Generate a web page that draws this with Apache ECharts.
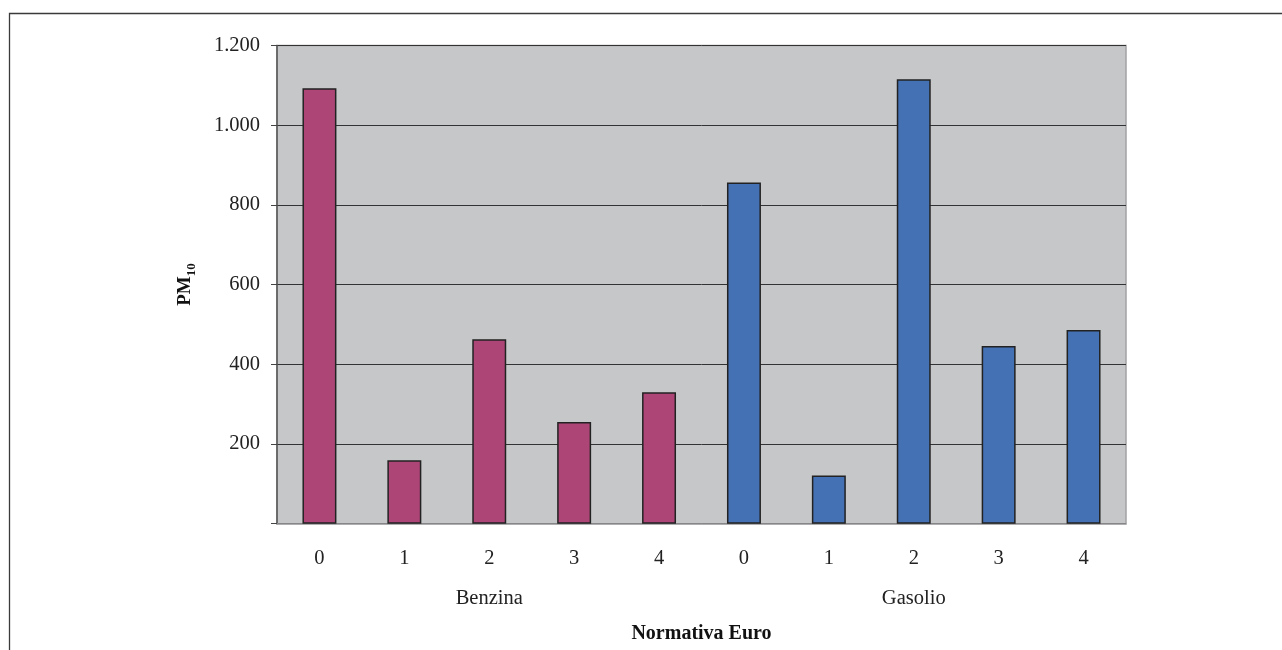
<!DOCTYPE html>
<html>
<head>
<meta charset="utf-8">
<script src="https://cdn.jsdelivr.net/npm/echarts@6/dist/echarts.min.js"></script>
<style>
html,body{margin:0;padding:0;background:#fff;}
#chart{width:1282px;height:650px;}
</style>
</head>
<body>
<div id="chart"></div>
<script>
// ---- data ----
const euroClasses = ['0', '1', '2', '3', '4'];
const fuelGroups = ['Benzina', 'Gasolio'];
const benzinaValues = [1093, 159, 463, 255, 330];
const gasolioValues = [856, 121, 1115, 446, 486];
const yTicks = [0, 200, 400, 600, 800, 1000, 1200];

const font = 'Liberation Serif';
const catLabels = fuelGroups.flatMap(() => euroClasses);
const nulls = euroClasses.map(() => null);

const chart = echarts.init(document.getElementById('chart'));
chart.setOption({
  backgroundColor: '#ffffff',
  animation: false,
  textStyle: { fontFamily: font },
  graphic: [{
    type: 'rect',
    shape: { x: 9.5, y: 13.5, width: 1400, height: 800 },
    style: { fill: 'none', stroke: '#3a3a3a', lineWidth: 1.3 },
    silent: true
  }],
  grid: {
    left: 277, right: 156, top: 45.5, bottom: 126.3,
    show: true, backgroundColor: '#C6C7C9', borderColor: '#A3A3A5', borderWidth: 1.5
  },
  xAxis: [{
    type: 'category',
    data: catLabels,
    position: 'bottom',
    axisLine: { show: true, lineStyle: { color: '#A3A3A5', width: 1.5 } },
    axisTick: { show: false },
    axisLabel: { fontFamily: font, fontSize: 20.5, color: '#222', margin: 24, interval: 0 }
  }, {
    type: 'category',
    data: fuelGroups,
    position: 'bottom',
    offset: 40,
    axisLine: { show: false },
    axisTick: { show: false },
    axisLabel: { fontFamily: font, fontSize: 20.5, color: '#222', margin: 24, interval: 0 },
    name: 'Normativa Euro',
    nameLocation: 'middle',
    nameGap: 60,
    nameTextStyle: { fontFamily: font, fontSize: 20, fontWeight: 'bold', color: '#111' }
  }],
  yAxis: {
    type: 'value',
    min: yTicks[0], max: yTicks[yTicks.length - 1], interval: 200,
    axisLine: { show: true, lineStyle: { color: '#555', width: 1.5 } },
    axisTick: { show: true, inside: false, length: 6, lineStyle: { color: '#444', width: 1 } },
    splitLine: { show: true, lineStyle: { color: '#333', width: 1 } },
    axisLabel: {
      fontFamily: font, fontSize: 20.5, color: '#222', margin: 17,
      formatter: v => v === 0 ? '' : String(v).replace(/\B(?=(\d{3})+(?!\d))/g, '.')
    },
    name: '{a|PM}{b|10}',
    nameLocation: 'middle',
    nameRotate: 90,
    nameGap: 82,
    nameTextStyle: {
      rich: {
        a: { fontFamily: font, fontSize: 19, fontWeight: 'bold', color: '#111', lineHeight: 22, verticalAlign: 'bottom' },
        b: { fontFamily: font, fontSize: 13, fontWeight: 'bold', color: '#111', lineHeight: 22, verticalAlign: 'bottom', padding: [0, 0, -3, 0] }
      }
    }
  },
  series: [{
    name: 'Benzina',
    type: 'bar',
    xAxisIndex: 0,
    data: benzinaValues.concat(nulls),
    barWidth: '40%',
    barGap: '-100%',
    itemStyle: { color: '#AD4677', borderColor: '#222', borderWidth: 1.5 }
  }, {
    name: 'Gasolio',
    type: 'bar',
    xAxisIndex: 0,
    data: nulls.concat(gasolioValues),
    barWidth: '40%',
    barGap: '-100%',
    itemStyle: { color: '#4470B4', borderColor: '#222', borderWidth: 1.5 }
  }]
});
</script>
</body>
</html>
